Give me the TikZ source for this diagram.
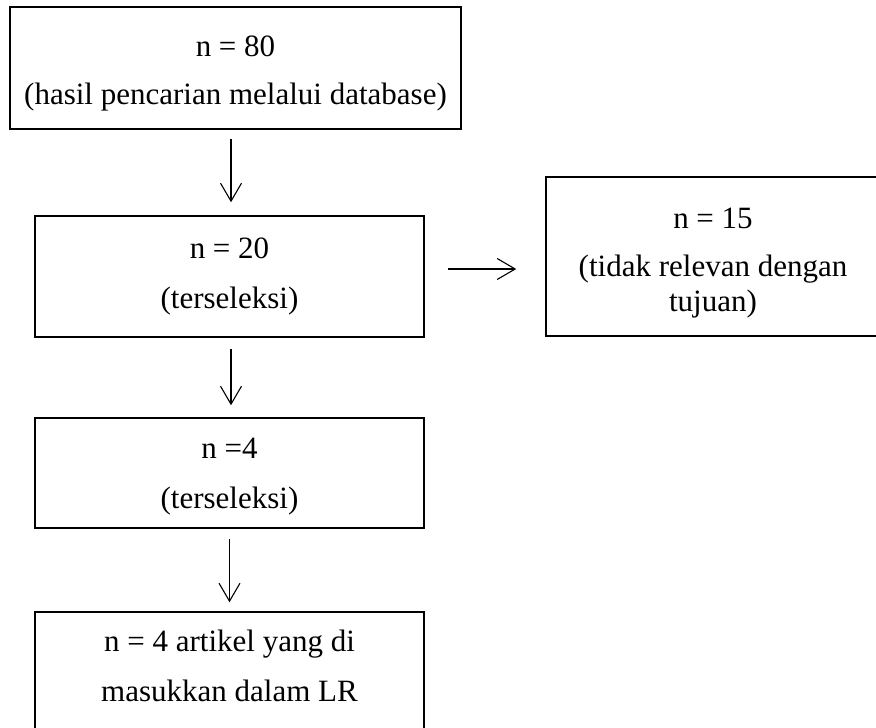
\documentclass[tikz,border=0pt]{standalone}
\usepackage{fontspec}
\setmainfont{Liberation Serif}
\usepackage{tikz}
\usetikzlibrary{arrows.meta}
\usetikzlibrary{positioning}

\begin{document}
\begin{tikzpicture}[x=1pt,y=-1pt,
	box_node/.style={draw,line width=1.5pt,align=center,inner sep=0pt,font=\fontsize{31}{50}\selectfont},
	flow_arrow/.style={-{Straight Barb[length=18pt,width=21pt]},line width=1.1pt}]
	\useasboundingbox (0,0) rectangle (876,728);
	\node[box_node, minimum width=451pt, minimum height=122pt, font=\fontsize{31}{48}\selectfont](1) at (235.5,68){\rule{0pt}{31pt}n = 80\\(hasil pencarian melalui database)};
	\node[box_node, minimum width=389pt, minimum height=121pt](2) at (229.5,276.5){n = 20\\(terseleksi)};
	\node[box_node, minimum width=334pt, minimum height=159pt, font=\fontsize{31}{48}\selectfont](3) at (713,256.5){\rule{0pt}{33pt}n = 15\\(tidak relevan dengan\\[-13pt]tujuan)};
	\node[box_node, minimum width=389pt, minimum height=110pt](4) at (229.5,473){\rule{0pt}{27pt}n =4\\(terseleksi)};
	\node[box_node, minimum width=389pt, minimum height=138pt](5) at (229.5,681){n = 4 artikel yang di\\masukkan dalam LR\rule[-31pt]{0pt}{31pt}};
	\draw[flow_arrow] ([xshift=-4.5pt,yshift=-9pt]1.south) -- ([xshift=1.5pt,yshift=13pt]2.north);
	\draw[flow_arrow] ([xshift=1.5pt,yshift=-11pt]2.south) -- ([xshift=1.5pt,yshift=12pt]4.north);
	\draw[flow_arrow] ([yshift=-10pt]4.south) -- ([yshift=9pt]5.north);
	\draw[flow_arrow] ([xshift=23pt,yshift=7.5pt]2.east) -- ([xshift=-29pt,yshift=-12.5pt]3.west);
\end{tikzpicture}
\end{document}
